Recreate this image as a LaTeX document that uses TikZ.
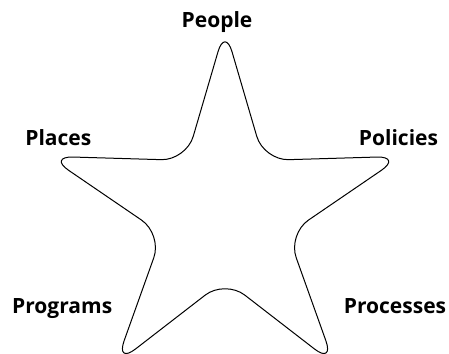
\documentclass[tikz,border=0pt]{standalone}
\usepackage{fontspec}
\setmainfont{Open Sans}
\begin{document}
\begin{tikzpicture}[x=1pt,y=-1pt,
  lbl/.style={font=\bfseries\fontsize{21}{24}\selectfont, inner sep=0pt, anchor=base},
  starline/.style={draw=black, line width=1pt, rounded corners=25pt, line join=round}]
\useasboundingbox (0,0) rectangle (449,353);
% outer tips
\coordinate (oT) at (225,27.8);
\coordinate (oR) at (401.9,156.3);
\coordinate (oBR) at (334.3,364.3);
\coordinate (oBL) at (115.7,364.3);
\coordinate (oL) at (48.1,156.3);
% inner corners
\coordinate (iTR) at (263.8,160.4);
\coordinate (iR) at (287.8,234.2);
\coordinate (iB) at (225,279.8);
\coordinate (iL) at (162.2,234.2);
\coordinate (iTL) at (186.2,160.4);
\coordinate (m) at (244.4,94.1);
\draw[starline] (m) -- (iTR) -- (oR) -- (iR) -- (oBR) -- (iB) -- (oBL) -- (iL) -- (oL) -- (iTL) -- (oT) -- (m);
% labels
\node[lbl] (people) at (217,28) {People};
\node[lbl] (places) at (58.3,145.5) {Places};
\node[lbl] (policies) at (398.5,145.5) {Policies};
\node[lbl] (programs) at (62.2,313) {Programs};
\node[lbl] (processes) at (395,313) {Processes};
\end{tikzpicture}
\end{document}
